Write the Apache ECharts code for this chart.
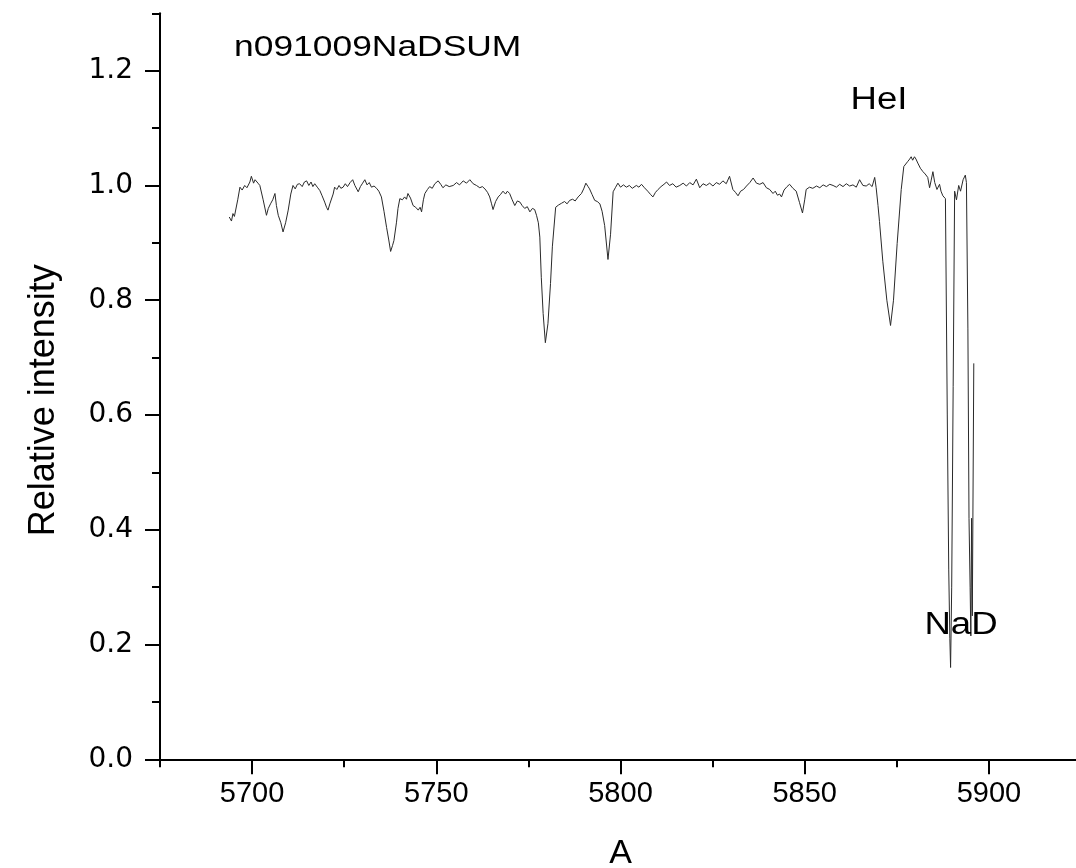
<!DOCTYPE html>
<html>
<head>
<meta charset="utf-8">
<script src="https://cdn.jsdelivr.net/npm/echarts@6/dist/echarts.min.js"></script>
<style>
html,body{margin:0;padding:0;background:#fff;}
#chart{width:1076px;height:868px;}
</style>
</head>
<body>
<div id="chart"></div>
<script>
const wavelength = [
5693.8,5694.4,5694.8,5695.2,5695.6,5696.1,5696.7,5697.3,5698.0,5698.6,5699.4,5699.8,5700.4,5700.8,5701.2,5701.6,5702.1,5703.0,5703.9,5704.4,
5705.0,5705.6,5706.2,5706.6,5707.1,5707.8,5708.4,5709.1,5709.8,5710.5,5711.1,5711.7,5712.3,5712.9,5713.6,5714.2,5714.8,5715.4,5716.0,5716.5,
5717.0,5717.7,5718.4,5719.0,5719.7,5720.2,5720.6,5721.1,5721.6,5722.0,5722.4,5723.0,5723.6,5724.1,5724.7,5725.3,5725.9,5726.6,5727.3,5727.9,
5728.8,5729.4,5730.0,5730.6,5731.2,5731.8,5732.4,5733.1,5733.8,5734.4,5735.1,5735.8,5736.5,5737.1,5737.6,5738.1,5738.5,5739.2,5739.6,5740.1,
5740.8,5741.4,5741.9,5742.3,5743.0,5743.7,5744.4,5745.1,5745.6,5746.0,5746.5,5746.9,5747.6,5748.2,5748.9,5749.6,5750.5,5751.2,5751.8,5752.6,
5753.5,5754.6,5755.5,5756.3,5757.3,5758.2,5759.1,5760.0,5760.9,5761.8,5762.5,5763.2,5763.9,5764.5,5765.0,5765.4,5766.1,5766.8,5767.4,5768.1,
5768.8,5769.3,5769.9,5770.6,5771.3,5772.0,5772.7,5773.3,5774.0,5774.7,5775.4,5776.1,5776.7,5777.2,5777.7,5778.1,5778.5,5779.0,5779.6,5780.3,
5781.0,5781.5,5782.4,5783.2,5784.0,5784.8,5785.5,5786.2,5787.0,5787.7,5788.5,5789.4,5790.0,5790.6,5791.2,5791.6,5792.3,5793.0,5793.7,5794.4,
5795.0,5795.7,5796.6,5797.3,5798.0,5798.6,5799.3,5800.0,5800.8,5801.6,5802.4,5803.2,5804.3,5805.0,5805.7,5806.5,5807.4,5808.2,5808.8,5809.5,
5810.2,5811.0,5811.8,5812.5,5813.3,5814.2,5815.1,5816.1,5817.0,5817.9,5818.8,5819.7,5820.6,5821.5,5822.4,5823.3,5824.2,5825.1,5826.0,5826.9,
5827.8,5828.7,5829.6,5830.5,5831.2,5831.9,5832.6,5833.4,5834.2,5835.1,5836.0,5836.9,5837.8,5838.7,5839.6,5840.5,5841.4,5842.0,5842.6,5843.2,
5843.7,5844.4,5845.2,5845.9,5846.8,5847.7,5848.6,5849.4,5850.0,5850.4,5851.3,5852.2,5853.2,5854.1,5855.0,5855.9,5856.8,5857.7,5858.6,5859.5,
5860.4,5861.3,5862.2,5863.1,5864.0,5864.9,5865.8,5866.7,5867.5,5868.3,5869.0,5869.4,5869.9,5870.3,5871.2,5872.3,5873.3,5874.1,5875.1,5876.2,
5876.9,5877.4,5878.0,5878.5,5878.9,5879.3,5879.8,5880.2,5880.7,5881.4,5882.1,5882.7,5883.4,5883.9,5884.3,5884.8,5885.3,5885.9,5886.6,5887.0,
5887.5,5887.9,5888.2,5888.7,5889.1,5889.4,5889.6,5889.9,5890.3,5890.7,5891.2,5891.8,5892.3,5893.0,5893.6,5893.9,5894.3,5894.6,5894.9,5895.1,
5895.3,5895.5,5895.9
];
const intensity = [
0.945,0.938,0.951,0.946,0.945,0.975,0.997,0.992,1.000,0.996,1.006,1.016,1.004,1.010,1.013,1.004,1.000,0.975,0.948,0.960,
0.968,0.975,0.986,0.965,0.948,0.935,0.919,0.935,0.957,0.985,1.000,0.994,1.002,1.003,0.998,1.006,1.008,1.000,1.006,0.998,
1.003,0.997,0.991,0.982,0.971,0.962,0.957,0.968,0.965,0.985,0.997,0.993,1.000,0.995,0.997,1.003,0.998,1.005,1.010,1.000,
0.989,0.998,1.004,1.010,1.001,1.005,0.997,0.999,0.995,0.990,0.980,0.955,0.927,0.905,0.885,0.895,0.904,0.936,0.960,0.977,
0.975,0.980,0.976,0.986,0.978,0.965,0.962,0.957,0.962,0.954,0.975,0.986,0.993,0.998,0.995,1.003,1.008,1.002,0.996,1.001,
0.998,1.000,1.005,1.001,1.008,1.004,1.010,1.003,1.000,0.996,0.998,0.994,0.988,0.980,0.968,0.958,0.972,0.980,0.984,0.990,
0.985,0.990,0.986,0.975,0.965,0.973,0.971,0.965,0.960,0.963,0.954,0.960,0.958,0.948,0.935,0.910,0.840,0.777,0.726,0.759,
0.829,0.893,0.962,0.966,0.969,0.972,0.968,0.974,0.976,0.973,0.980,0.986,0.994,1.004,0.998,0.994,0.984,0.974,0.972,0.968,
0.955,0.930,0.871,0.915,0.989,0.996,1.004,0.997,1.001,0.997,1.000,0.995,1.000,0.997,1.002,0.996,0.990,0.984,0.980,0.988,
0.993,0.998,1.002,1.006,1.000,1.003,0.997,1.000,1.004,0.999,1.005,1.001,1.011,0.996,1.003,1.000,1.004,0.999,1.005,1.002,
1.008,1.003,1.016,0.993,0.988,0.982,0.990,0.993,0.999,1.005,1.013,1.004,1.002,1.005,0.996,0.993,0.986,0.990,0.983,0.985,
0.980,0.992,0.998,1.002,0.995,0.990,0.970,0.952,0.975,0.993,0.997,0.995,0.999,0.996,1.001,0.998,1.002,1.000,0.997,1.002,
0.998,1.003,0.999,1.001,0.997,1.010,1.000,0.999,1.003,0.998,1.014,0.996,0.965,0.937,0.868,0.800,0.756,0.800,0.899,0.993,
1.033,1.036,1.042,1.046,1.050,1.044,1.050,1.046,1.039,1.030,1.024,1.020,1.014,0.996,1.008,1.024,1.005,0.993,1.002,0.990,
0.982,0.985,0.977,0.600,0.330,0.210,0.160,0.300,0.650,0.990,0.975,1.000,0.990,1.010,1.018,1.005,0.750,0.420,0.300,0.215,
0.420,0.250,0.690
];
const xMajorTicks = [5700, 5750, 5800, 5850, 5900];
const xMinorTicks = [5675, 5725, 5775, 5825, 5875, 5925];
const yMajorTicks = [0, 0.2, 0.4, 0.6, 0.8, 1.0, 1.2];
const yMinorTicks = [0.1, 0.3, 0.5, 0.7, 0.9, 1.1, 1.3];
const titleText = 'n091009NaDSUM';
const xName = 'A';
const yName = 'Relative intensity';
const annotations = [
  { text: 'HeI', x: 879, y: 100 },
  { text: 'NaD', x: 961, y: 625 }
];

const seriesData = wavelength.map((w, i) => [w, intensity[i]]);
const chart = echarts.init(document.getElementById('chart'), null, { renderer: 'canvas' });
const lineStyleAxis = { color: '#000', width: 2 };
const option = {
  animation: false,
  backgroundColor: '#fff',
  grid: { left: 160, right: -5, top: 13.3, bottom: 108.7, containLabel: false, outerBoundsMode: 'none' },
  xAxis: [
    {
      type: 'value', min: 5675, max: 5925, position: 'bottom',
      name: xName, nameLocation: 'middle', nameGap: 77,
      nameTextStyle: { fontFamily: 'Liberation Sans', fontSize: 34, color: '#000' },
      axisLine: { show: true, onZero: false, lineStyle: lineStyleAxis },
      axisTick: { show: true, inside: false, length: 15, lineStyle: lineStyleAxis, customValues: xMajorTicks },
      axisLabel: { show: true, margin: 20, fontFamily: 'Liberation Sans', fontSize: 29, color: '#000',
        customValues: xMajorTicks, formatter: v => String(Math.round(v)) },
      splitLine: { show: false }
    },
    {
      type: 'value', min: 5675, max: 5925, position: 'bottom',
      axisLine: { show: false, onZero: false },
      axisTick: { show: true, inside: false, length: 8, lineStyle: lineStyleAxis, customValues: xMinorTicks },
      axisLabel: { show: false },
      splitLine: { show: false }
    }
  ],
  yAxis: [
    {
      type: 'value', min: 0, max: 1.3, position: 'left',
      name: yName, nameLocation: 'middle', nameGap: 98,
      nameTextStyle: { fontFamily: 'Liberation Sans', fontSize: 36, color: '#000', padding: [0, 28, 0, 0] },
      axisLine: { show: true, onZero: false, lineStyle: lineStyleAxis },
      axisTick: { show: true, inside: false, length: 15, lineStyle: lineStyleAxis, customValues: yMajorTicks },
      axisLabel: { show: true, margin: 27, fontFamily: 'DejaVu Sans', fontSize: 28, color: '#000',
        customValues: yMajorTicks, formatter: v => Number(v).toFixed(1) },
      splitLine: { show: false }
    },
    {
      type: 'value', min: 0, max: 1.3, position: 'left',
      axisLine: { show: false, onZero: false },
      axisTick: { show: true, inside: false, length: 8, lineStyle: lineStyleAxis, customValues: yMinorTicks },
      axisLabel: { show: false },
      splitLine: { show: false }
    }
  ],
  graphic: [
    { type: 'text', x: 234, y: 47.5, scaleX: 1.18, z: 100,
      style: { text: titleText, font: '30px "Liberation Sans"', fill: '#000', textAlign: 'left', textVerticalAlign: 'middle', align: 'left', verticalAlign: 'middle' } }
  ].concat(annotations.map(a => ({
      type: 'text', x: a.x, y: a.y, scaleX: 1.18, z: 100,
      style: { text: a.text, font: '31px "Liberation Sans"', fill: '#000', textAlign: 'center', textVerticalAlign: 'middle', align: 'center', verticalAlign: 'middle' }
  }))),
  series: [
    {
      type: 'line', xAxisIndex: 0, yAxisIndex: 0,
      data: seriesData, showSymbol: false, symbol: 'none',
      lineStyle: { color: '#2a2a2a', width: 1 },
      emphasis: { disabled: true }
    }
  ]
};
chart.setOption(option);
</script>
</body>
</html>
